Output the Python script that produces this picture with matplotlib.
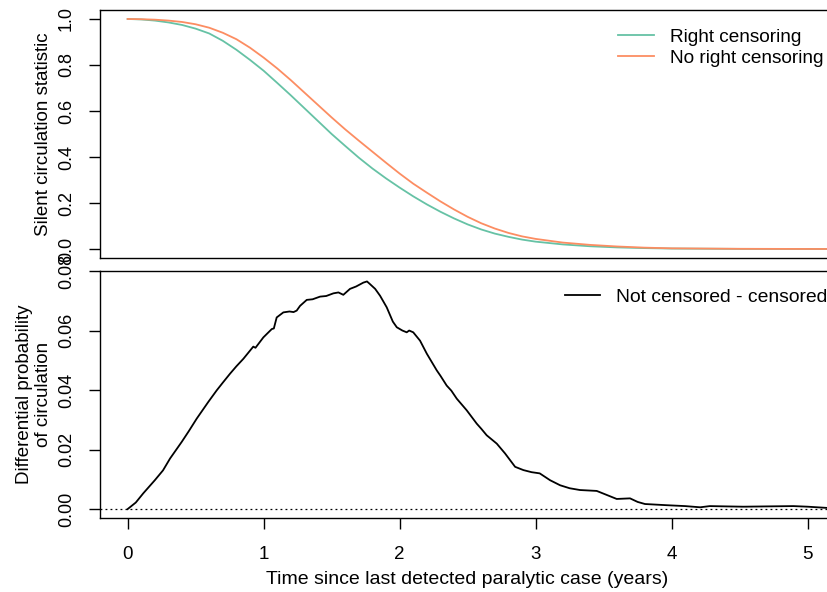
import matplotlib.pyplot as plt
from matplotlib.ticker import FormatStrFormatter

plt.rcParams['font.family'] = ['Liberation Sans', 'DejaVu Sans']

# silent circulation statistic, with and without right censoring
years = [0.0, 0.1, 0.2, 0.3, 0.4, 0.5, 0.6, 0.7, 0.8, 0.9,
         1.0, 1.1, 1.2, 1.3, 1.4, 1.5, 1.6, 1.7, 1.8, 1.9,
         2.0, 2.1, 2.2, 2.3, 2.4, 2.5, 2.6, 2.7, 2.8, 2.9,
         3.0, 3.2, 3.4, 3.6, 3.8, 4.0, 4.5, 5.0, 5.3]
censored = [1.000, 0.998, 0.993, 0.985, 0.974, 0.958, 0.937, 0.905, 0.866, 0.822,
            0.775, 0.722, 0.668, 0.612, 0.556, 0.500, 0.448, 0.397, 0.350, 0.307,
            0.267, 0.229, 0.194, 0.162, 0.133, 0.107, 0.085, 0.067, 0.053, 0.041,
            0.032, 0.020, 0.012, 0.007, 0.004, 0.002, 0.0006, 0.0002, 0.0001]
not_censored = [1.000, 0.999, 0.997, 0.993, 0.987, 0.977, 0.962, 0.940, 0.912, 0.875,
                0.832, 0.785, 0.734, 0.680, 0.626, 0.572, 0.520, 0.471, 0.423, 0.375,
                0.328, 0.284, 0.245, 0.207, 0.172, 0.140, 0.112, 0.089, 0.070, 0.055,
                0.044, 0.028, 0.018, 0.011, 0.006, 0.003, 0.0009, 0.0003, 0.0001]

# difference not censored - censored
diff_t = [0.0, 0.06, 0.115, 0.2, 0.26, 0.312, 0.398, 0.45, 0.508, 0.593,
          0.655, 0.70, 0.753, 0.80, 0.851, 0.924, 0.94, 0.998, 1.06, 1.075,
          1.096, 1.145, 1.19, 1.22, 1.243, 1.268, 1.317, 1.36, 1.415, 1.46,
          1.513, 1.55, 1.586, 1.635, 1.68, 1.733, 1.76, 1.782, 1.82, 1.856,
          1.905, 1.95, 1.979, 2.02, 2.052, 2.07, 2.10, 2.15, 2.20, 2.273,
          2.30, 2.346, 2.38, 2.42, 2.493, 2.567, 2.60, 2.64, 2.714, 2.775,
          2.849, 2.91, 2.97, 3.03, 3.106, 3.18, 3.25, 3.326, 3.449, 3.52,
          3.596, 3.694, 3.75, 3.804, 3.964, 4.10, 4.21, 4.28, 4.40, 4.527,
          4.70, 4.895, 5.00, 5.14, 5.30]
diff_p = [0.0, 0.0022, 0.0053, 0.0097, 0.0130, 0.0170, 0.0226, 0.0262, 0.0304, 0.0360,
          0.0399, 0.0425, 0.0455, 0.0480, 0.0505, 0.0546, 0.0542, 0.0577, 0.0605, 0.0607,
          0.0644, 0.0661, 0.0664, 0.0662, 0.0667, 0.0683, 0.0703, 0.0705, 0.0714, 0.0716,
          0.0725, 0.0728, 0.0720, 0.0740, 0.0748, 0.0761, 0.0765, 0.0756, 0.0740, 0.0717,
          0.0678, 0.0630, 0.0611, 0.0600, 0.0594, 0.0600, 0.0594, 0.0566, 0.0522, 0.0466,
          0.0448, 0.0415, 0.0398, 0.0371, 0.0332, 0.0287, 0.0270, 0.0248, 0.0220, 0.0187,
          0.0142, 0.0131, 0.0124, 0.0120, 0.0097, 0.0080, 0.0070, 0.0064, 0.0061, 0.0048,
          0.0034, 0.0036, 0.0024, 0.0017, 0.0013, 0.0010, 0.0006, 0.0010, 0.0009, 0.0008,
          0.0009, 0.0010, 0.0008, 0.0004, 0.0003]

top_ticks = [0.0, 0.2, 0.4, 0.6, 0.8, 1.0]
bottom_ticks = [0.00, 0.02, 0.04, 0.06, 0.08]
x_ticks = [0, 1, 2, 3, 4, 5]

green = '#66C2A5'
orange = '#FC8D62'

fig = plt.figure(figsize=(8.28, 5.92), dpi=100)
ax1 = fig.add_axes([0.1208, 0.5642, 0.9039, 0.4189])
ax2 = fig.add_axes([0.1208, 0.125, 0.9039, 0.4172])

ax1.plot(years, censored, color=green, lw=1.3, label='Right censoring')
ax1.plot(years, not_censored, color=orange, lw=1.3, label='No right censoring')
ax1.set_ylim(-0.039, 1.039)
ax1.set_yticks(top_ticks)
ax1.yaxis.set_major_formatter(FormatStrFormatter('%.1f'))
ax1.tick_params(axis='x', bottom=False, labelbottom=False)
ax1.legend(loc='upper left', bbox_to_anchor=(0.692, 0.926), frameon=False,
           borderpad=0, borderaxespad=0, handlelength=1.9, handletextpad=0.85,
           labelspacing=0.2, fontsize=13.7)

ax2.plot(diff_t, diff_p, color='black', lw=1.3, label='Not censored - censored')
ax2.axhline(0, color='black', lw=0.9, ls=(0, (1.5, 2.5)))
ax2.set_ylim(-0.003, 0.0798)
ax2.set_yticks(bottom_ticks)
ax2.yaxis.set_major_formatter(FormatStrFormatter('%.2f'))
ax2.set_xticks(x_ticks)
ax2.tick_params(axis='x', direction='out', length=8, width=1, labelsize=13.5, pad=12)
ax2.legend(loc='upper left', bbox_to_anchor=(0.621, 0.93), frameon=False,
           borderpad=0, borderaxespad=0, handlelength=1.8, handletextpad=0.85,
           fontsize=13.9)

for ax in (ax1, ax2):
    ax.set_xlim(-0.203, 5.3)
    ax.tick_params(axis='y', direction='out', length=8, width=1, labelsize=13,
                   pad=10, labelrotation=90)
    for lbl in ax.get_yticklabels():
        lbl.set_va('center')
    for s in ax.spines.values():
        s.set_linewidth(1)

# axis titles placed in figure pixels
fig.text(44 / 828, 1 - 134 / 592, 'Silent circulation statistic',
         rotation=90, ha='center', va='center', fontsize=13.5)
fig.text(34 / 828, 1 - 394 / 592, 'Differential probability\nof circulation',
         rotation=90, ha='center', va='center', fontsize=13.5, linespacing=1.15)
fig.text(467 / 828, 13 / 592, 'Time since last detected paralytic case (years)',
         ha='center', va='center', fontsize=14)

fig.savefig('out.png', dpi=100)
